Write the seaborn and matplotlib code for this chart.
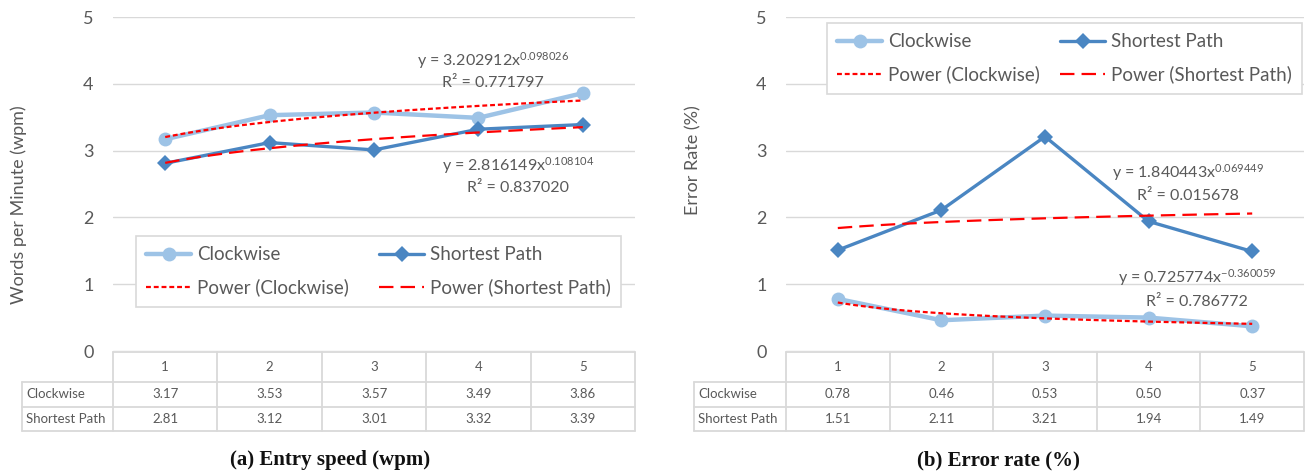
import numpy as np
import pandas as pd
import matplotlib
matplotlib.use("Agg")
import matplotlib.pyplot as plt
import seaborn as sns
from matplotlib.lines import Line2D

sns.set_style("white")
plt.rcParams['font.family'] = ['Lato', 'DejaVu Sans']
plt.rcParams['mathtext.fontset'] = 'custom'
plt.rcParams['mathtext.rm'] = 'Lato'
plt.rcParams['mathtext.it'] = 'Lato:italic'
plt.rcParams['mathtext.bf'] = 'Lato:bold'

# ---------------- data ----------------
categories = [1, 2, 3, 4, 5]
series_names = ["Clockwise", "Shortest Path"]
speed_clockwise = [3.17, 3.53, 3.57, 3.49, 3.86]
speed_shortest = [2.81, 3.12, 3.01, 3.32, 3.39]
error_clockwise = [0.78, 0.46, 0.53, 0.50, 0.37]
error_shortest = [1.51, 2.11, 3.21, 1.94, 1.49]
# power trendline coefficients y = a * x^b (as shown on chart)
speed_fit_cw = (3.202912, 0.098026, 0.771797)
speed_fit_sp = (2.816149, 0.108104, 0.837020)
error_fit_cw = (0.725774, -0.360059, 0.786772)
error_fit_sp = (1.840443, 0.069449, 0.015678)
yticks = [0, 1, 2, 3, 4, 5]
ylabel_a = "Words per Minute (wpm)"
ylabel_b = "Error Rate (%)"
caption_a = "(a) Entry speed (wpm)"
caption_b = "(b) Error rate (%)"

W, H = 1309, 474
C_CW = "#9DC3E6"
C_SP = "#4A86C2"
C_RED = "#FF0000"
TXT = "#595959"
GRID = "#D9D9D9"

fig = plt.figure(figsize=(W / 100, H / 100), dpi=100)


def rect(x0, y0, x1, y1):
    return [x0 / W, 1 - y1 / H, (x1 - x0) / W, (y1 - y0) / H]


def ftext(x, y, s, **kw):
    fig.text(x / W, 1 - y / H, s, **kw)


def fmt_eq(a, b):
    return "y = %.6fx$^{%.6f}$" % (a, b)


def panel(px0, px1, tabx0, cw, sp, fit_cw, fit_sp, fmt_vals):
    ax = fig.add_axes(rect(px0, 17, px1, 351))
    df = pd.DataFrame({"x": categories, "cw": cw, "sp": sp})
    sns.lineplot(data=df, x="x", y="cw", ax=ax, color=C_CW, linewidth=3.2,
                 marker="o", markersize=10, markeredgewidth=0, zorder=3)
    sns.lineplot(data=df, x="x", y="sp", ax=ax, color=C_SP, linewidth=2.4,
                 marker="D", markersize=8, markeredgewidth=0, zorder=4)
    xs = np.linspace(categories[0], categories[-1], 100)
    tcw = pd.DataFrame({"x": xs, "y": fit_cw[0] * xs ** fit_cw[1]})
    tsp = pd.DataFrame({"x": xs, "y": fit_sp[0] * xs ** fit_sp[1]})
    sns.lineplot(data=tcw, x="x", y="y", ax=ax, color=C_RED, linewidth=1.6, zorder=5)
    ax.lines[-1].set_dashes((2.2, 1.3))
    sns.lineplot(data=tsp, x="x", y="y", ax=ax, color=C_RED, linewidth=1.6, zorder=5)
    ax.lines[-1].set_dashes((6.5, 3.2))
    ax.set_xlim(0.5, 5.5)
    ax.set_ylim(0, 5)
    ax.set_yticks(yticks)
    ax.set_xticks([])
    ax.set_xlabel("")
    ax.set_ylabel("")
    for s in ax.spines.values():
        s.set_visible(False)
    ax.grid(axis="y", color=GRID, linewidth=1)
    ax.tick_params(axis="y", length=0, pad=14, labelsize=13, labelcolor=TXT)
    ax.set_axisbelow(True)

    # data table
    colw = (px1 - px0) / 5
    tab = fig.add_axes(rect(tabx0, 352, px1, 431))
    xmin = 0.5 - (px0 - tabx0) / colw
    tab.set_xlim(xmin, 5.5)
    rows = [0, 1.2, 2.2, 3.16]
    tab.set_ylim(rows[-1], 0)
    tab.axis("off")
    lk = dict(color=GRID, linewidth=1.3, clip_on=False)
    tab.plot([0.5, 5.5], [rows[0], rows[0]], **lk)
    for r in rows[1:]:
        tab.plot([xmin, 5.5], [r, r], **lk)
    for i in range(6):
        tab.plot([0.5 + i, 0.5 + i], [rows[0], rows[-1]], **lk)
    tab.plot([xmin, xmin], [rows[1], rows[-1]], **lk)
    for i, c in enumerate(categories):
        tab.text(c, (rows[0] + rows[1]) / 2, str(c), ha="center", va="center",
                 fontsize=9.5, color=TXT)
        tab.text(c, (rows[1] + rows[2]) / 2, fmt_vals % cw[i], ha="center",
                 va="center", fontsize=9.5, color=TXT)
        tab.text(c, (rows[2] + rows[3]) / 2, fmt_vals % sp[i], ha="center",
                 va="center", fontsize=9.5, color=TXT)
    tab.text(xmin + 0.04, (rows[1] + rows[2]) / 2, series_names[0], ha="left",
             va="center", fontsize=9.5, color=TXT)
    tab.text(xmin + 0.04, (rows[2] + rows[3]) / 2, series_names[1], ha="left",
             va="center", fontsize=9.5, color=TXT)
    return ax


def legend(ax, x0, y0, x1):
    handles = [
        Line2D([], [], color=C_CW, linewidth=3.2, marker="o", markersize=10, markeredgewidth=0),
        Line2D([], [], color=C_RED, linewidth=1.6, dashes=(2.2, 1.3)),
        Line2D([], [], color=C_SP, linewidth=2.4, marker="D", markersize=8, markeredgewidth=0),
        Line2D([], [], color=C_RED, linewidth=1.6, dashes=(6.5, 3.2)),
    ]
    labels = [series_names[0], "Power (Clockwise)", series_names[1], "Power (Shortest Path)"]
    leg = fig.legend(handles, labels, ncol=2, loc="upper left",
                     bbox_to_anchor=(x0 / W, 1 - y0 / H, (x1 - x0) / W, 0.0),
                     mode="expand", fontsize=13.5, handlelength=2.4, handletextpad=0.3,
                     labelspacing=0.8, borderpad=0.55, borderaxespad=0,
                     columnspacing=1.0, fancybox=False, framealpha=1,
                     edgecolor=GRID, numpoints=1, labelcolor=TXT)
    leg.get_frame().set_linewidth(1.2)
    leg.set_zorder(10)
    return leg


axa = panel(113, 635, 22, speed_clockwise, speed_shortest, speed_fit_cw, speed_fit_sp, "%.2f")
axb = panel(786, 1304, 694, error_clockwise, error_shortest, error_fit_cw, error_fit_sp, "%.2f")

legend(axa, 136, 236, 621)
legend(axb, 827, 23, 1302)

ek = dict(ha="center", va="center", fontsize=11.5, color=TXT)
ftext(493, 61, fmt_eq(*speed_fit_cw[:2]), **ek)
ftext(493, 83, "R² = %.6f" % speed_fit_cw[2], **ek)
ftext(518, 166, fmt_eq(*speed_fit_sp[:2]), **ek)
ftext(518, 188, "R² = %.6f" % speed_fit_sp[2], **ek)
ftext(1188, 173, fmt_eq(*error_fit_sp[:2]), **ek)
ftext(1188, 196, "R² = %.6f" % error_fit_sp[2], **ek)
ftext(1197, 278, fmt_eq(*error_fit_cw[:2]), **ek)
ftext(1197, 302, "R² = %.6f" % error_fit_cw[2], **ek)

ftext(19, 205, ylabel_a, rotation=90, ha="center", va="center", fontsize=13, color=TXT)
ftext(693, 160, ylabel_b, rotation=90, ha="center", va="center", fontsize=13, color=TXT)

ftext(330, 460, caption_a, ha="center", va="center", fontsize=15,
      fontweight="bold", family=["Liberation Serif", "DejaVu Serif"], color="#111111")
ftext(998, 460, caption_b, ha="center", va="center", fontsize=15,
      fontweight="bold", family=["Liberation Serif", "DejaVu Serif"], color="#111111")

fig.savefig("out.png", dpi=100)
